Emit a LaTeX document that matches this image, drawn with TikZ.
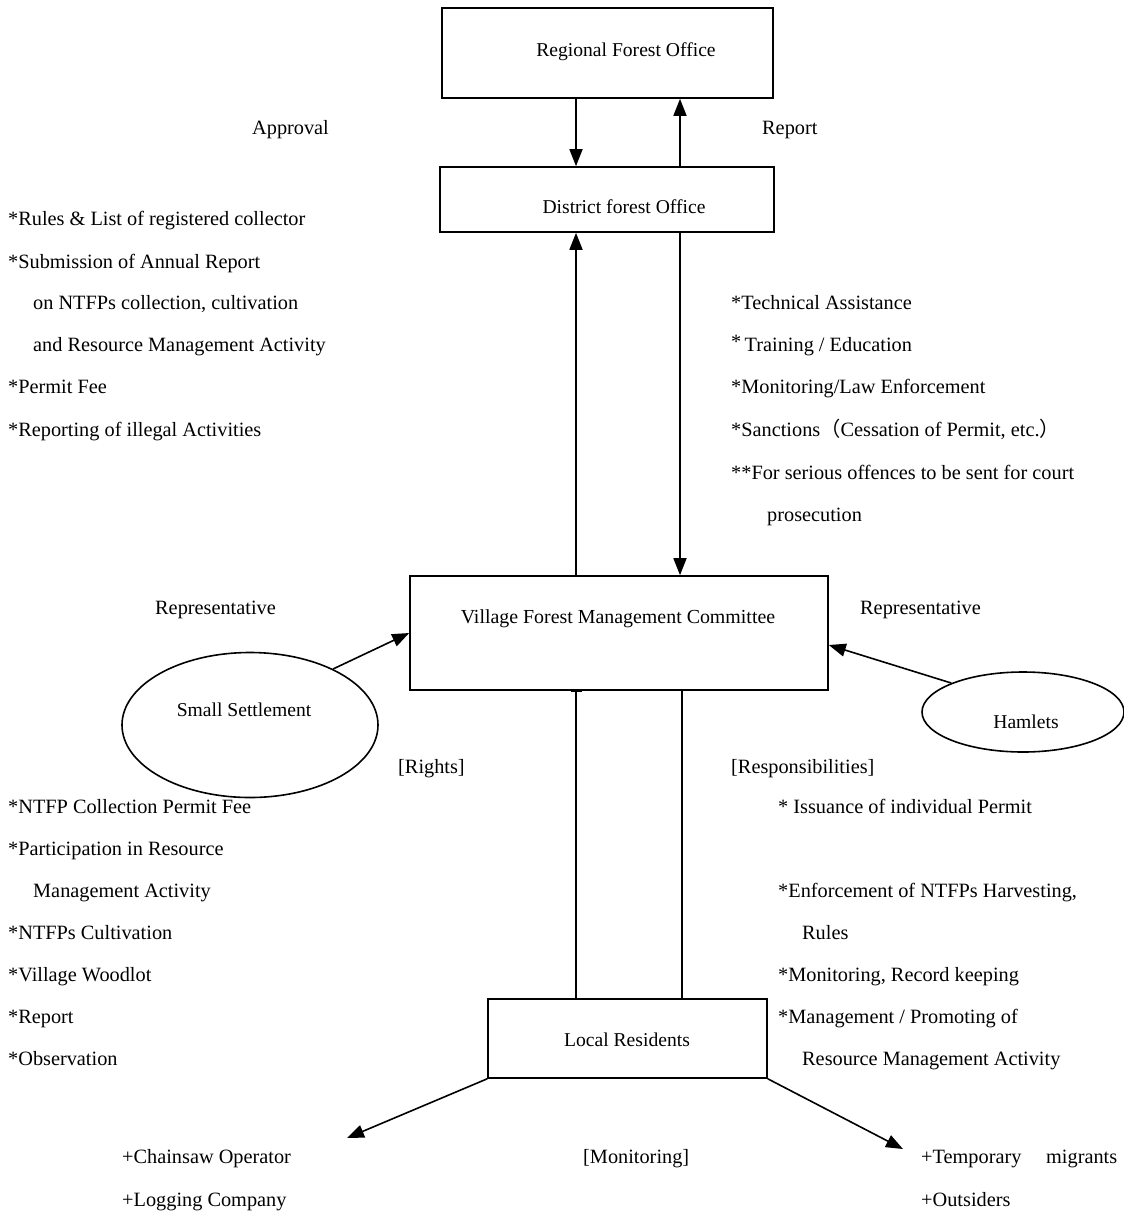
\documentclass[tikz,border=0pt]{standalone}
\usepackage{fontspec}
\setmainfont{Liberation Serif}
\newfontfamily\cjk{Noto Sans CJK SC}
\usetikzlibrary{arrows.meta,shapes.geometric,calc}

\begin{document}
\begin{tikzpicture}[x=1pt,y=-1pt,
  every node/.style={font=\fontsize{19.6}{23}\selectfont},
  box/.style={draw,line width=1.6pt,inner sep=0pt},
  oval/.style={draw,ellipse,line width=1.6pt,inner sep=0pt},
  lbl/.style={anchor=base west,inner sep=0pt,font=\fontsize{20.3}{24}\selectfont},
  ctr/.style={anchor=base,inner sep=0pt},
  conn/.style={line width=1.6pt},
  arr/.style={line width=1.6pt,-{Triangle[length=17pt,width=13pt]}},
  bar/.style={line width=1.6pt,-{Bar[width=11pt]}}]
\useasboundingbox (0,0) rectangle (1124,1211);

% column positions of the vertical links
\coordinate (xL) at (576,0);
\coordinate (xR) at (680,0);
\coordinate (xR2) at (682,0);

% boxes and ovals
\node[box,minimum width=331pt,minimum height=90pt] (rfo) at (607.5,53) {};
\node[box,minimum width=334pt,minimum height=65pt] (dfo) at (607,199.5) {};
\node[box,minimum width=418pt,minimum height=114pt] (vfmc) at (619,633) {};
\node[box,minimum width=279pt,minimum height=79pt] (lr) at (627.5,1038.5) {};
\node[oval,minimum width=256pt,minimum height=145pt] (ss) at (250,725) {};
\node[oval,minimum width=202pt,minimum height=80pt] (ham) at (1023,712) {};

% box titles
\node[ctr] (trfo) at (626,56) {Regional Forest Office};
\node[ctr] (tdfo) at (624,213) {District forest Office};
\node[ctr,font=\fontsize{19.9}{23}\selectfont] (tvfmc) at (618,623) {Village Forest Management Committee};
\node[ctr] (tlr) at (627,1046) {Local Residents};
\node[ctr] (tss) at (244,716) {Small Settlement};
\node[ctr] (tham) at (1026,728) {Hamlets};

% links between the offices
\draw[arr] (rfo.south -| xL) -- (dfo.north -| xL);
\draw[arr] (dfo.north -| xR) -- (rfo.south -| xR);
\draw[arr] (vfmc.north -| xL) -- (dfo.south -| xL);
\draw[arr] (dfo.south -| xR) -- (vfmc.north -| xR);
\draw[bar] (lr.north -| xL) -- (vfmc.south -| xL);
\draw[conn] (lr.north -| xR2) -- (vfmc.south -| xR2);

% representatives
\draw[arr] (ss.34) -- (vfmc.west);
\draw[arr] (ham.158) -- ($(vfmc.east)+(0,12)$);

% monitoring
\coordinate (mL) at (347,1138);
\coordinate (mR) at (903,1149);
\draw[arr] (lr.south west) -- (mL);
\draw[arr] (lr.south east) -- (mR);

% labels
\node[lbl] (appr) at (252,134) {Approval};
\node[lbl] (rept) at (762,134) {Report};

\node[lbl] (l1) at (8,225) {*Rules \& List of registered collector};
\node[lbl] (l2) at (8,268) {*Submission of Annual Report};
\node[lbl] (l3) at (33,309) {on NTFPs collection, cultivation};
\node[lbl] (l4) at (33,351) {and Resource Management Activity};
\node[lbl] (l5) at (8,393) {*Permit Fee};
\node[lbl] (l6) at (8,436) {*Reporting of illegal Activities};

\node[lbl] (r1) at (731,309) {*Technical Assistance};
\node[lbl] (r2) at (731,351) {\raisebox{3pt}{*}\,Training / Education};
\node[lbl] (r3) at (731,393) {*Monitoring/Law Enforcement};
\node[lbl] (r4) at (731,436) {*Sanctions{\cjk （}Cessation of Permit, etc.{\cjk ）}};
\node[lbl] (r5) at (731,479) {**For serious offences to be sent for court};
\node[lbl] (r6) at (767,521) {prosecution};

\node[lbl] (repL) at (155,614) {Representative};
\node[lbl] (repR) at (860,614) {Representative};

\node[lbl] (rights) at (398,773) {[Rights]};
\node[lbl] (resp) at (731,773) {[Responsibilities]};

\node[lbl] (a1) at (8,813) {*NTFP Collection Permit Fee};
\node[lbl] (a2) at (8,855) {*Participation in Resource};
\node[lbl] (a3) at (33,897) {Management Activity};
\node[lbl] (a4) at (8,939) {*NTFPs Cultivation};
\node[lbl] (a5) at (8,981) {*Village Woodlot};
\node[lbl] (a6) at (8,1023) {*Report};
\node[lbl] (a7) at (8,1065) {*Observation};

\node[lbl] (b1) at (778,813) {* Issuance of individual Permit};
\node[lbl] (b2) at (778,897) {*Enforcement of NTFPs Harvesting,};
\node[lbl] (b3) at (802,939) {Rules};
\node[lbl] (b4) at (778,981) {*Monitoring, Record keeping};
\node[lbl] (b5) at (778,1023) {*Management / Promoting of};
\node[lbl] (b6) at (802,1065) {Resource Management Activity};

\node[lbl] (c1) at (122,1163) {+Chainsaw Operator};
\node[lbl] (c2) at (122,1206) {+Logging Company};
\node[lbl] (mon) at (583,1163) {[Monitoring]};
\node[lbl] (d1) at (921,1163) {\makebox[196pt][s]{+Temporary\hfill migrants}};
\node[lbl] (d2) at (921,1206) {+Outsiders};
\end{tikzpicture}
\end{document}
